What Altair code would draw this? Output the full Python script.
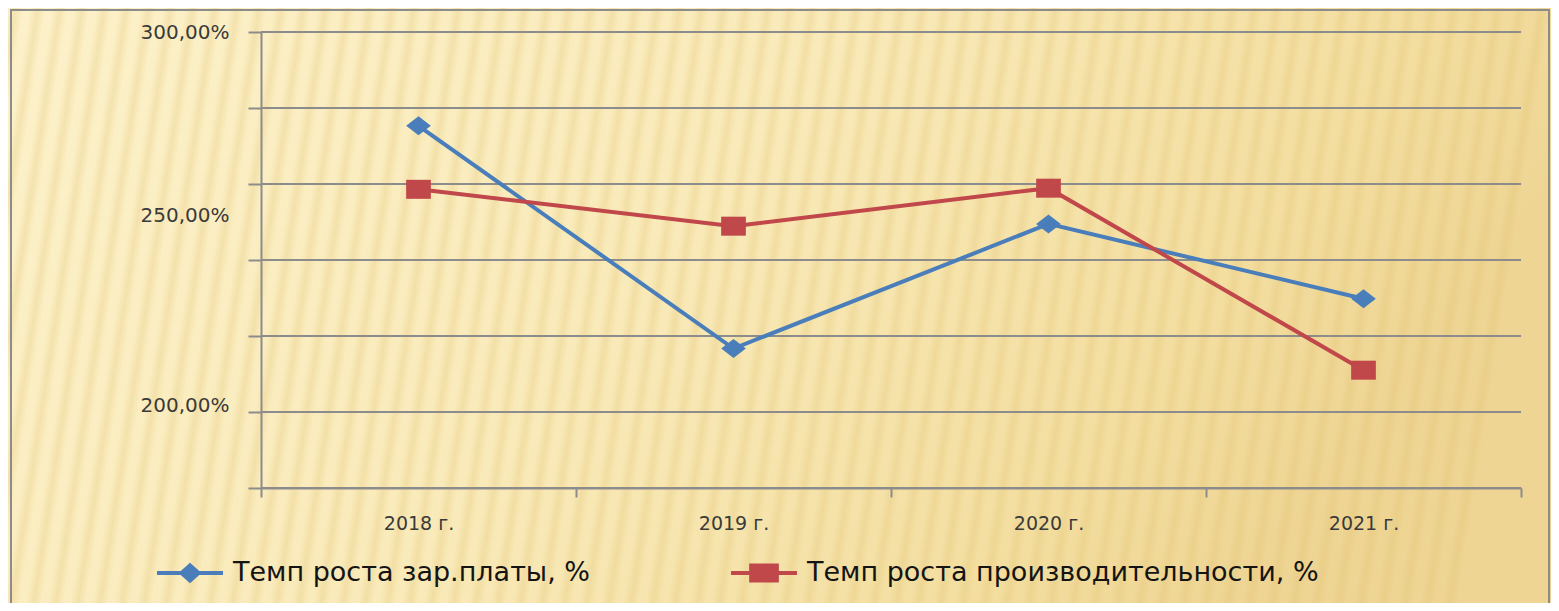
import altair as alt
import pandas as pd

# ---- data ----
years = ["2018 г.", "2019 г.", "2020 г.", "2021 г."]
salary_growth = [275.3, 216.7, 249.5, 229.8]
productivity_growth = [258.6, 248.9, 258.9, 211.0]
series_names = ["Темп роста зар.платы, %", "Темп роста производительности, %"]
series_colors = ["#4a7ebb", "#c0474a"]
grid_values = [180, 200, 220, 240, 260, 280, 300]
tick_values = [180, 200, 220, 240, 250, 260, 280, 300]
label_values = [200, 250, 300]

rows = []
for name, vals in zip(series_names, [salary_growth, productivity_growth]):
    for yr, v in zip(years, vals):
        rows.append({"year": yr, "value": v, "series": name})
df = pd.DataFrame(rows)
grid_df = pd.DataFrame({"value": grid_values})

W, H = 1260, 456
PAD = {"left": 253, "top": 24, "right": 30, "bottom": 115}
GRID = "#8c8c8c"

marker_paths = ["M0,-1L1.3,0L0,1L-1.3,0Z", "M-1.3,-1H1.3V1H-1.3Z"]
legend_paths = [
    "M-1,-0.06H1V0.06H-1Z M0,-0.31L0.35,0L0,0.31L-0.35,0Z",
    "M-1,-0.06H1V0.06H-1Z M-0.45,-0.29H0.45V0.29H-0.45Z",
]
shape_expr = "datum.value === '%s' ? '%s' : '%s'" % (series_names[0], legend_paths[0], legend_paths[1])

label_expr = (
    "indexof(%s, datum.value) >= 0 ? replace(format(datum.value, '.2f'), '.', ',') + '%%' : ''"
    % str(label_values)
)

legend = alt.Legend(
    title=None,
    orient="none",
    direction="horizontal",
    legendX=-104,
    legendY=508,
    labelFont="DejaVu Sans",
    labelFontSize=27,
    labelColor="#141414",
    labelOffset=10,
    labelLimit=800,
    columnPadding=140,
    symbolSize=4356,
    symbolType={"expr": shape_expr},
    symbolFillColor={"expr": "scale('color', datum.value)"},
    symbolStrokeColor="transparent",
    symbolStrokeWidth=0,
    symbolOpacity=1,
    padding=0,
)

color_scale = alt.Scale(domain=series_names, range=series_colors)
color = alt.Color("series:N", scale=color_scale, legend=legend)
color_nolegend = alt.Color("series:N", scale=color_scale, legend=None)

x = alt.X(
    "year:N",
    sort=years,
    bandPosition=0.5,
    scale=alt.Scale(type="band", domain=years, paddingInner=0, paddingOuter=0),
    axis=alt.Axis(
        title=None,
        tickBand="extent",
        labelAngle=0,
        labelFont="DejaVu Sans",
        labelFontSize=19,
        labelColor="#3a3a3a",
        labelPadding=17,
        tickSize=9,
        tickColor=GRID,
        tickWidth=2,
        domainColor=GRID,
        domainWidth=2,
        grid=False,
        zindex=1,
    ),
)

y = alt.Y(
    "value:Q",
    scale=alt.Scale(domain=[180, 300], nice=False, zero=False),
    axis=alt.Axis(
        title=None,
        values=tick_values,
        labelExpr=label_expr,
        labelFont="DejaVu Sans",
        labelFontSize=20,
        labelColor="#3a3a3a",
        labelPadding=19,
        labelOffset={"condition": {"test": "datum.value === 300", "value": 0}, "value": -7},
        tickSize=13,
        tickWidth=2,
        tickColor={"condition": {"test": "datum.value === 250", "value": "transparent"}, "value": GRID},
        grid=False,
        domainColor=GRID,
        domainWidth=2,
        zindex=1,
    ),
)

# ---- decorative background (not data) ----
bg_gradient = alt.LinearGradient(
    gradient="linear",
    x1=0, y1=0, x2=1, y2=0.3,
    stops=[
        alt.GradientStop(color="#fcf1c9", offset=0),
        alt.GradientStop(color="#f9eab9", offset=0.5),
        alt.GradientStop(color="#f3dea0", offset=0.85),
        alt.GradientStop(color="#eed594", offset=1),
    ],
)
n_stripes = 70
stripe_stops = []
for k in range(n_stripes):
    stripe_stops.append(alt.GradientStop(color="rgba(222,186,100,0)", offset=k / n_stripes))
    stripe_stops.append(alt.GradientStop(color="rgba(222,186,100,0.24)", offset=(k + 0.35) / n_stripes))
    stripe_stops.append(alt.GradientStop(color="rgba(222,186,100,0)", offset=(k + 0.7) / n_stripes))
stripe_stops.append(alt.GradientStop(color="rgba(222,186,100,0)", offset=1))
stripe_gradient = alt.LinearGradient(gradient="linear", x1=0, y1=0, x2=1, y2=0.06, stops=stripe_stops)

one = pd.DataFrame({"d": [0]})
background = alt.Chart(one).mark_rect(fill=bg_gradient).encode(
    x=alt.value(-253), x2=alt.value(1290), y=alt.value(-24), y2=alt.value(571)
)
stripes = alt.Chart(one).mark_rect(fill=stripe_gradient).encode(
    x=alt.value(-253), x2=alt.value(1290), y=alt.value(-24), y2=alt.value(571)
)
frame = alt.Chart(one).mark_rect(fill="transparent", stroke=GRID, strokeWidth=2).encode(
    x=alt.value(-250), x2=alt.value(1288), y=alt.value(-22), y2=alt.value(600)
)

gridlines = alt.Chart(grid_df).mark_rule(color=GRID, strokeWidth=2).encode(y=y)

base = alt.Chart(df).encode(x=x, y=y)
lines = base.mark_line(strokeWidth=4).encode(color=color)
points_salary = (
    base.transform_filter(alt.datum.series == series_names[0])
    .mark_point(filled=True, size=361, opacity=1, shape=marker_paths[0])
    .encode(color=color_nolegend)
)
points_prod = (
    base.transform_filter(alt.datum.series == series_names[1])
    .mark_point(filled=True, size=361, opacity=1, shape=marker_paths[1])
    .encode(color=color_nolegend)
)

chart = (
    alt.layer(background, stripes, frame, gridlines, lines, points_salary, points_prod)
    .properties(width=W, height=H, padding=PAD, autosize=alt.AutoSizeParams(type="none"))
    .configure(background="#f8e9b6")
    .configure_view(stroke=None)
)

chart.save("out.html", embed_options={"renderer": "svg", "actions": False})
